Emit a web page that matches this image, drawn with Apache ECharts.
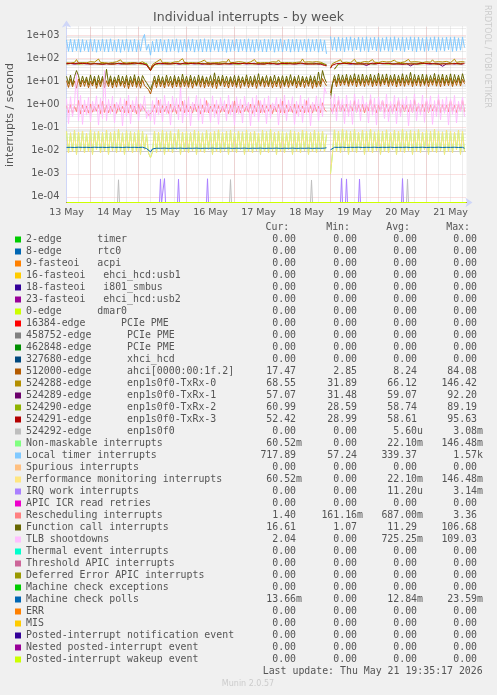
<!DOCTYPE html>
<html>
<head>
<meta charset="utf-8">
<script src="https://cdn.jsdelivr.net/npm/echarts@6/dist/echarts.min.js"></script>
<style>
  html, body { margin: 0; padding: 0; background: #f0f0f0; }
  #irqChart { width: 497px; height: 695px; }
</style>
</head>
<body>
<div id="irqChart"></div>
<script>
// x is hours counted from 13 May 00:00, one sample per hour from 13 May 12:00
var dayLabels = ['13 May', '14 May', '15 May', '16 May', '17 May', '18 May', '19 May', '20 May', '21 May']

var seriesNames = [
  '2-edge      timer',
  '8-edge      rtc0',
  '9-fasteoi   acpi',
  '16-fasteoi   ehci_hcd:usb1',
  '18-fasteoi   i801_smbus',
  '23-fasteoi   ehci_hcd:usb2',
  '0-edge      dmar0',
  '16384-edge      PCIe PME',
  '458752-edge      PCIe PME',
  '462848-edge      PCIe PME',
  '327680-edge      xhci_hcd',
  '512000-edge      ahci[0000:00:1f.2]',
  '524288-edge      enp1s0f0-TxRx-0',
  '524289-edge      enp1s0f0-TxRx-1',
  '524290-edge      enp1s0f0-TxRx-2',
  '524291-edge      enp1s0f0-TxRx-3',
  '524292-edge      enp1s0f0',
  'Non-maskable interrupts',
  'Local timer interrupts',
  'Spurious interrupts',
  'Performance monitoring interrupts',
  'IRQ work interrupts',
  'APIC ICR read retries',
  'Rescheduling interrupts',
  'Function call interrupts',
  'TLB shootdowns',
  'Thermal event interrupts',
  'Threshold APIC interrupts',
  'Deferred Error APIC interrupts',
  'Machine check exceptions',
  'Machine check polls',
  'ERR',
  'MIS',
  'Posted-interrupt notification event',
  'Nested posted-interrupt event',
  'Posted-interrupt wakeup event'
]

var seriesColors = [
  '#00CC00', '#0066B3', '#FF8000', '#FFCC00', '#330099', '#990099', '#CCFF00', '#FF0000', '#808080',
  '#008F00', '#00487D', '#B35A00', '#B38F00', '#6B006B', '#8FB300', '#B30000', '#BEBEBE', '#80FF80',
  '#80C9FF', '#FFC080', '#FFE680', '#AA80FF', '#EE00CC', '#FF8080', '#666600', '#FFBFFF', '#00FFCC',
  '#CC6699', '#999900', '#00CC00', '#0066B3', '#FF8000', '#FFCC00', '#330099', '#990099', '#CCFF00'
]

var curVals = ['0.00', '0.00', '0.00', '0.00', '0.00', '0.00', '0.00', '0.00', '0.00', '0.00', '0.00',
  '17.47', '68.55', '57.07', '60.99', '52.42', '0.00', '60.52m', '717.89', '0.00', '60.52m', '0.00',
  '0.00', '1.40', '16.61', '2.04', '0.00', '0.00', '0.00', '0.00', '13.66m', '0.00', '0.00', '0.00', '0.00', '0.00']
var minVals = ['0.00', '0.00', '0.00', '0.00', '0.00', '0.00', '0.00', '0.00', '0.00', '0.00', '0.00',
  '2.85', '31.89', '31.48', '28.59', '28.99', '0.00', '0.00', '57.24', '0.00', '0.00', '0.00',
  '0.00', '161.16m', '1.07', '0.00', '0.00', '0.00', '0.00', '0.00', '0.00', '0.00', '0.00', '0.00', '0.00', '0.00']
var avgVals = ['0.00', '0.00', '0.00', '0.00', '0.00', '0.00', '0.00', '0.00', '0.00', '0.00', '0.00',
  '8.24', '66.12', '59.07', '58.74', '58.61', '5.60u', '22.10m', '339.37', '0.00', '22.10m', '11.20u',
  '0.00', '687.00m', '11.29', '725.25m', '0.00', '0.00', '0.00', '0.00', '12.84m', '0.00', '0.00', '0.00', '0.00', '0.00']
var maxVals = ['0.00', '0.00', '0.00', '0.00', '0.00', '0.00', '0.00', '0.00', '0.00', '0.00', '0.00',
  '84.08', '146.42', '92.20', '89.19', '95.63', '3.08m', '146.48m', '1.57k', '0.00', '146.48m', '3.14m',
  '0.00', '3.36', '106.68', '109.03', '0.00', '0.00', '0.00', '0.00', '23.59m', '0.00', '0.00', '0.00', '0.00', '0.00']

// hourly series (200 samples)
var localTimerRate = [
  640, 205, 690, 198, 655, 212, 700, 190, 668, 220,
  610, 196, 705, 208, 672, 188, 640, 215, 695, 202,
  660, 192, 715, 210, 630, 200, 688, 186, 650, 224,
  702, 198, 645, 206, 690, 195, 620, 210, 676, 1100,
  230, 420, 140, 560, 200, 680, 196, 700, 212, 640,
  190, 695, 205, 660, 215, 710, 188, 648, 200, 690,
  196, 665, 218, 705, 190, 640, 208, 685, 194, 720,
  202, 655, 192, 698, 226, 630, 198, 680, 210, 710,
  186, 670, 204, 645, 214, 700, 193, 662, 220, 690,
  197, 715, 205, 650, 189, 682, 212, 640, 200, 705,
  195, 668, 222, 690, 188, 655, 208, 712, 199, 636,
  215, 694, 190, 670, 206, 702, 196, 648, 224, 686,
  192, 710, 203, 660, 217, 695, 189, 672, 210, 640,
  160, null, 900, 230, 820, 205, 860, 215, 790, 198,
  845, 226, 870, 210, 780, 235, 855, 200, 810, 222,
  875, 195, 800, 240, 850, 212, 830, 204, 790, 228,
  865, 208, 815, 198, 880, 230, 795, 214, 840, 200,
  805, 236, 870, 210, 825, 196, 850, 224, 785, 205,
  860, 218, 810, 232, 875, 200, 835, 226, 800, 210,
  855, 240, 820, 204, 870, 216, 790, 230, 845, 300
]

var txrx0Rate = [
  66, 72, 63, 70, 68, 90, 64, 71, 67, 74,
  65, 69, 73, 66, 70, 64, 95, 68, 72, 66,
  70, 63, 74, 67, 69, 72, 65, 88, 68, 71,
  64, 73, 67, 70, 66, 75, 63, 69, 72, 66,
  58, 50, 34, 55, 66, 72, 68, 92, 65, 70,
  67, 74, 63, 69, 71, 66, 73, 64, 98, 68,
  72, 65, 70, 67, 75, 63, 69, 71, 66, 86,
  68, 73, 64, 70, 66, 74, 67, 69, 72, 65,
  70, 94, 66, 72, 68, 64, 73, 67, 70, 75,
  63, 69, 71, 66, 90, 68, 72, 65, 70, 67,
  74, 66, 69, 72, 64, 70, 87, 68, 71, 66,
  73, 67, 70, 65, 75, 68, 64, 71, 96, 69,
  66, 72, 68, 70, 64, 73, 67, 69, 62, 58,
  54, null, 40, 60, 68, 74, 70, 88, 66, 72,
  69, 75, 65, 71, 93, 67, 72, 66, 70, 74,
  68, 71, 64, 90, 69, 73, 66, 70, 75, 67,
  71, 65, 72, 69, 86, 70, 74, 66, 69, 72,
  67, 92, 70, 65, 73, 68, 71, 75, 66, 70,
  72, 66, 69, 88, 70, 64, 73, 68, 71, 67,
  75, 69, 66, 72, 94, 68, 70, 73, 65, 71
]

var txrx3Rate = [
  60, 58, 62, 57, 61, 59, 63, 56, 60, 58,
  62, 59, 57, 61, 60, 64, 58, 60, 57, 62,
  59, 61, 58, 63, 57, 60, 62, 58, 61, 59,
  57, 62, 60, 58, 64, 59, 61, 57, 60, 56,
  52, 45, 30, 48, 58, 61, 59, 62, 57, 60,
  61, 58, 63, 59, 57, 62, 60, 58, 61, 64,
  58, 60, 57, 61, 59, 63, 56, 60, 62, 58,
  60, 57, 62, 59, 61, 58, 64, 57, 60, 59,
  62, 58, 60, 63, 57, 61, 59, 60, 58, 62,
  59, 61, 57, 60, 64, 58, 62, 59, 61, 57,
  60, 62, 58, 61, 59, 57, 63, 60, 58, 61,
  57, 60, 62, 58, 61, 59, 60, 64, 57, 60,
  61, 58, 60, 57, 62, 59, 61, 58, 55, 50,
  48, null, 38, 52, 58, 60, 57, 61, 59, 62,
  58, 60, 56, 61, 59, 57, 62, 58, 60, 59,
  61, 57, 60, 63, 58, 60, 56, 62, 59, 61,
  58, 62, 60, 57, 61, 59, 63, 58, 60, 57,
  60, 59, 62, 58, 61, 57, 60, 63, 59, 61,
  57, 61, 59, 60, 62, 58, 60, 57, 61, 59,
  62, 58, 60, 59, 57, 61, 60, 58, 62, 60
]

// two-hourly series (100 samples)
var txrx1Rate = [
  59, 61, 57, 60, 62, 58, 60, 59, 61, 57,
  60, 58, 62, 59, 57, 61, 60, 58, 62, 59,
  57, 32, 55, 60, 58, 61, 59, 62, 57, 60,
  59, 61, 58, 60, 57, 62, 59, 61, 58, 60,
  62, 57, 60, 59, 61, 58, 60, 62, 57, 59,
  61, 58, 60, 57, 62, 59, 61, 58, 60, 59,
  58, 60, 62, 57, 59, 52, null, 36, 58, 60,
  61, 57, 59, 62, 58, 50, 60, 57, 61, 59,
  60, 62, 58, 59, 57, 61, 48, 60, 58, 62,
  59, 57, 61, 60, 46, 59, 62, 58, 60, 57
]

var txrx2Rate = [
  58, 60, 62, 57, 59, 61, 58, 62, 57, 60,
  61, 57, 59, 62, 58, 60, 57, 61, 59, 58,
  62, 30, 54, 58, 61, 57, 60, 59, 62, 58,
  57, 60, 61, 58, 62, 59, 57, 60, 58, 61,
  59, 62, 58, 57, 60, 61, 59, 58, 62, 57,
  60, 59, 61, 62, 57, 58, 60, 61, 59, 62,
  57, 61, 58, 60, 62, 50, null, 34, 57, 61,
  59, 62, 58, 60, 57, 61, 59, 58, 62, 60,
  58, 57, 61, 59, 62, 60, 58, 61, 57, 59,
  62, 60, 58, 57, 61, 59, 60, 62, 58, 61
]

var ahciRate = [
  11, 5.6, 12.5, 6.0, 10.8, 5.2, 13.0, 5.8, 11.6, 6.2,
  12.2, 5.4, 10.5, 6.4, 12.8, 5.1, 11.4, 5.9, 13.2, 5.5,
  10.9, 6.1, 12.4, 5.3, 11.8, 5.7, 12.9, 6.3, 10.6, 5.5,
  12.6, 5.0, 11.2, 6.0, 13.4, 5.6, 10.8, 5.2, 12.0, 6.6,
  8.0, 4.5, 2.9, 6.0, 11.5, 5.5, 12.7, 5.9, 11.0, 5.3,
  12.3, 6.2, 10.7, 5.4, 13.1, 5.8, 11.9, 5.1, 12.5, 6.0,
  11.1, 5.6, 12.8, 5.2, 10.9, 6.3, 12.2, 5.7, 13.3, 5.4,
  11.4, 6.1, 10.6, 5.5, 12.6, 5.0, 11.8, 6.4, 12.9, 5.8,
  10.8, 5.3, 12.4, 6.0, 11.3, 5.6, 13.0, 5.2, 11.7, 6.2,
  12.7, 5.5, 10.9, 5.9, 12.1, 5.1, 11.5, 6.3, 13.2, 5.7,
  11.0, 6.0, 12.5, 5.4, 10.7, 5.8, 12.9, 5.2, 11.6, 6.1,
  12.3, 5.6, 11.1, 6.4, 13.0, 5.3, 10.8, 5.9, 12.6, 5.5,
  11.4, 6.2, 12.8, 5.1, 11.9, 5.7, 10.6, 6.0, 13.5, 9.0,
  6.5, null, 3.2, 8.0, 12.8, 6.0, 13.5, 6.5, 12.2, 7.0,
  13.8, 6.2, 12.4, 6.8, 14.0, 5.9, 12.9, 6.6, 13.3, 6.1,
  12.6, 6.9, 13.9, 6.0, 12.1, 6.5, 13.6, 6.3, 12.8, 7.1,
  14.2, 6.1, 12.5, 6.7, 13.4, 5.8, 12.9, 6.4, 14.1, 6.2,
  12.3, 7.0, 13.7, 6.0, 12.6, 6.6, 14.0, 6.2, 12.9, 6.8,
  13.5, 6.1, 12.4, 6.9, 13.9, 6.3, 12.7, 6.0, 14.3, 6.5,
  12.8, 6.7, 13.6, 6.1, 12.2, 6.8, 13.8, 6.4, 12.5, 8.0
]

var funcCallRate = [
  17, 8.2, 19, 7.5, 16.5, 30, 18, 7.8, 17.5, 8.6,
  16, 7.4, 19.5, 8.0, 17.2, 7.1, 18.4, 8.3, 16.8, 7.7,
  34, 8.1, 17.9, 7.3, 16.2, 8.5, 19.1, 7.6, 17.4, 8.0,
  18.6, 7.2, 16.9, 8.4, 19.8, 7.5, 17.1, 8.1, 18.2, 12,
  9.0, 6.5, 4.5, 8.0, 17.5, 7.9, 18.8, 8.2, 16.4, 7.4,
  19.2, 8.6, 17.0, 7.3, 18.5, 8.0, 16.7, 7.7, 21, 8.3,
  17.3, 7.6, 18.9, 8.1, 16.6, 7.2, 19.4, 8.5, 17.8, 7.9,
  16.1, 8.2, 18.3, 7.4, 24, 8.0, 17.6, 7.5, 19.0, 8.4,
  17.2, 7.8, 16.5, 8.3, 18.7, 7.1, 17.9, 8.6, 16.3, 7.6,
  19.6, 8.0, 17.4, 7.3, 18.1, 8.2, 22, 7.7, 16.8, 8.5,
  18.4, 7.5, 17.0, 8.1, 19.3, 7.9, 16.6, 8.4, 18.0, 7.2,
  17.5, 8.3, 19.9, 7.6, 16.9, 8.0, 18.6, 7.4, 17.3, 8.7,
  16.4, 7.8, 18.2, 8.2, 17.7, 7.5, 26, 8.1, 30, 14,
  9.0, null, 1.8, 8.5, 18.5, 8.4, 21, 8.8, 19.4, 9.0,
  20.5, 8.2, 18.8, 9.1, 22, 8.6, 19.7, 8.0, 21.3, 8.9,
  18.9, 9.2, 20.8, 8.3, 19.2, 8.7, 23, 8.1, 20.1, 9.0,
  21.5, 8.4, 19.0, 9.3, 20.6, 8.2, 18.7, 8.8, 21.9, 8.5,
  19.5, 9.1, 25, 8.3, 20.4, 8.9, 19.1, 8.6, 21.2, 8.0,
  20.0, 8.7, 18.6, 9.2, 22.5, 8.4, 19.8, 9.0, 20.9, 8.3,
  19.3, 8.8, 21.7, 8.1, 20.2, 9.3, 18.9, 8.5, 22, 10
]

var reschedRate = [
  0.9, 0.45, 1.0, 0.42, 0.85, 0.5, 1.5, 0.4, 0.95, 0.48,
  0.88, 0.43, 1.05, 0.47, 0.82, 0.52, 0.98, 0.41, 1.4, 0.46,
  0.92, 0.44, 0.86, 0.5, 1.02, 0.42, 0.9, 0.49, 0.84, 0.45,
  1.45, 0.43, 0.96, 0.48, 0.87, 0.4, 1.0, 0.51, 0.89, 0.6,
  0.5, 0.35, 0.3, 0.5, 0.93, 0.46, 1.55, 0.44, 0.9, 0.5,
  0.85, 0.42, 1.03, 0.47, 0.88, 0.41, 0.97, 0.52, 1.4, 0.45,
  0.91, 0.48, 0.86, 0.43, 1.01, 0.5, 0.89, 0.4, 0.94, 0.47,
  1.5, 0.44, 0.87, 0.51, 0.99, 0.42, 0.9, 0.46, 0.85, 0.49,
  1.02, 0.41, 0.92, 0.48, 1.45, 0.45, 0.88, 0.43, 0.96, 0.5,
  0.86, 0.47, 1.04, 0.42, 0.9, 0.49, 1.5, 0.44, 0.93, 0.46,
  0.89, 0.52, 0.97, 0.41, 0.87, 0.48, 1.0, 0.45, 1.42, 0.43,
  0.94, 0.5, 0.85, 0.46, 1.03, 0.42, 0.91, 0.49, 0.88, 0.44,
  1.48, 0.47, 0.9, 0.43, 0.98, 0.51, 0.86, 0.45, 1.2, 0.6,
  0.5, null, 0.7, 0.45, 1.0, 0.5, 1.6, 0.48, 0.95, 0.52,
  1.05, 0.46, 0.92, 0.54, 1.5, 0.47, 0.98, 0.5, 1.02, 0.44,
  0.94, 0.53, 1.7, 0.48, 1.0, 0.45, 0.96, 0.52, 1.55, 0.47,
  1.03, 0.5, 0.93, 0.46, 0.99, 0.55, 1.6, 0.44, 0.97, 0.51,
  0.95, 0.48, 1.04, 0.45, 1.65, 0.52, 0.92, 0.47, 1.01, 0.5,
  1.5, 0.46, 0.98, 0.53, 0.94, 0.49, 1.7, 0.45, 1.0, 0.52,
  0.96, 0.48, 1.55, 0.5, 0.93, 0.46, 1.02, 0.53, 1.6, 0.49
]

var tlbRate = [
  1.8, 0.15, 2.2, 0.3, 1.2, 24, 0.2, 2.5, 0.14, 1.6,
  0.35, 2.1, 0.18, 1.4, 0.5, 2.4, 0.13, 1.9, 0.25, 30,
  0.2, 1.7, 0.4, 2.3, 0.16, 1.3, 0.6, 2.0, 0.12, 1.8,
  0.3, 2.6, 0.15, 1.5, 0.45, 2.2, 0.2, 1.1, 0.55, 2.4,
  0.25, 0.6, 0.2, 1.5, 0.14, 2.1, 0.35, 1.7, 0.18, 2.5,
  0.4, 1.4, 0.13, 2.3, 0.5, 1.9, 0.22, 5.5, 0.16, 1.6,
  0.3, 2.2, 0.12, 1.3, 0.6, 2.5, 0.2, 1.8, 0.15, 2.0,
  0.45, 1.2, 0.17, 2.4, 0.28, 1.6, 0.14, 2.1, 0.5, 1.5,
  0.2, 2.6, 0.35, 1.4, 0.13, 2.2, 0.4, 1.7, 0.16, 2.3,
  0.55, 1.3, 0.12, 2.0, 0.3, 2.5, 0.18, 1.5, 0.42, 1.9,
  0.15, 2.4, 0.25, 1.2, 0.6, 2.1, 0.13, 1.8, 0.35, 2.6,
  0.2, 1.6, 0.48, 2.2, 0.14, 1.4, 0.3, 2.5, 0.17, 1.7,
  0.4, 2.0, 0.12, 1.3, 0.55, 2.4, 0.2, 1.9, 0.3, 5.5,
  3.0, null, 2.5, 0.4, 2.8, 0.2, 2.3, 0.5, 1.8, 0.15,
  2.6, 0.3, 1.5, 0.14, 2.9, 0.45, 1.7, 0.2, 2.4, 0.6,
  1.3, 0.16, 2.7, 0.35, 1.9, 0.13, 2.2, 0.5, 1.6, 0.25,
  2.8, 0.18, 1.4, 0.4, 2.5, 0.15, 2.0, 0.3, 1.8, 0.55,
  2.3, 0.12, 1.6, 0.45, 2.9, 0.2, 1.2, 0.35, 2.6, 0.17,
  1.9, 0.5, 2.4, 0.14, 1.5, 0.3, 2.7, 0.22, 1.7, 0.42,
  2.2, 0.13, 1.8, 0.38, 2.5, 0.16, 1.4, 0.5, 2.1, 0.3
]

// NMI and performance monitoring counts are identical
var pmiRate = [
  0.07, 0.008, 0.06, 0.009, 0.075, 0.007, 0.065, 0.010, 0.072, 0.008,
  0.058, 0.009, 0.08, 0.007, 0.066, 0.011, 0.071, 0.008, 0.062, 0.009,
  0.078, 0.007, 0.064, 0.010, 0.069, 0.008, 0.083, 0.009, 0.06, 0.007,
  0.073, 0.010, 0.067, 0.008, 0.061, 0.009, 0.079, 0.007, 0.068, 0.011,
  0.05, 0.008, 0.005, 0.009, 0.07, 0.008, 0.063, 0.010, 0.076, 0.007,
  0.066, 0.009, 0.072, 0.008, 0.059, 0.011, 0.081, 0.007, 0.065, 0.009,
  0.07, 0.008, 0.062, 0.010, 0.077, 0.007, 0.068, 0.009, 0.06, 0.008,
  0.074, 0.011, 0.065, 0.007, 0.07, 0.009, 0.08, 0.008, 0.063, 0.010,
  0.069, 0.007, 0.075, 0.009, 0.061, 0.008, 0.072, 0.011, 0.066, 0.007,
  0.078, 0.009, 0.064, 0.008, 0.07, 0.010, 0.059, 0.007, 0.076, 0.009,
  0.067, 0.008, 0.082, 0.010, 0.063, 0.007, 0.071, 0.009, 0.068, 0.008,
  0.06, 0.011, 0.074, 0.007, 0.069, 0.009, 0.065, 0.008, 0.079, 0.010,
  0.071, 0.007, 0.062, 0.009, 0.077, 0.008, 0.066, 0.010, 0.07, 0.009,
  0.05, null, 0.001, 0.008, 0.08, 0.009, 0.07, 0.008, 0.085, 0.010,
  0.073, 0.007, 0.068, 0.009, 0.082, 0.008, 0.064, 0.011, 0.078, 0.007,
  0.07, 0.009, 0.086, 0.008, 0.066, 0.010, 0.075, 0.007, 0.069, 0.009,
  0.08, 0.008, 0.063, 0.011, 0.077, 0.007, 0.071, 0.009, 0.084, 0.008,
  0.067, 0.010, 0.074, 0.007, 0.07, 0.009, 0.081, 0.008, 0.065, 0.011,
  0.076, 0.007, 0.069, 0.009, 0.083, 0.008, 0.072, 0.010, 0.066, 0.007,
  0.079, 0.009, 0.071, 0.008, 0.064, 0.011, 0.077, 0.007, 0.07, 0.009
]

var mcePollRate = [
  0.0140, 0.0129, 0.0141, 0.0127, 0.0139, 0.0130, 0.0142, 0.0128, 0.0140, 0.0129,
  0.0141, 0.0128, 0.0139, 0.0130, 0.0142, 0.0127, 0.0140, 0.0129, 0.0141, 0.0128,
  0.0139, 0.0130, 0.0142, 0.0128, 0.0140, 0.0127, 0.0141, 0.0129, 0.0139, 0.0130,
  0.0142, 0.0128, 0.0140, 0.0129, 0.0141, 0.0127, 0.0139, 0.0130, 0.0142, 0.0128,
  0.0125, 0.0110, 0.0090, 0.0120, 0.0140, 0.0129, 0.0141, 0.0128, 0.0139, 0.0130,
  0.0141, 0.0127, 0.0140, 0.0129, 0.0142, 0.0128, 0.0139, 0.0130, 0.0141, 0.0127,
  0.0140, 0.0129, 0.0142, 0.0128, 0.0139, 0.0130, 0.0141, 0.0127, 0.0140, 0.0129,
  0.0142, 0.0128, 0.0139, 0.0130, 0.0141, 0.0127, 0.0140, 0.0129, 0.0142, 0.0128,
  0.0139, 0.0130, 0.0141, 0.0127, 0.0140, 0.0129, 0.0142, 0.0128, 0.0139, 0.0130,
  0.0141, 0.0127, 0.0140, 0.0129, 0.0142, 0.0128, 0.0139, 0.0130, 0.0141, 0.0127,
  0.0140, 0.0129, 0.0142, 0.0128, 0.0139, 0.0130, 0.0141, 0.0127, 0.0140, 0.0129,
  0.0142, 0.0128, 0.0139, 0.0130, 0.0141, 0.0127, 0.0140, 0.0129, 0.0142, 0.0128,
  0.0139, 0.0130, 0.0141, 0.0127, 0.0140, 0.0129, 0.0142, 0.0128, 0.0139, 0.0130,
  0.0135, null, 0.0110, 0.0130, 0.0141, 0.0128, 0.0140, 0.0129, 0.0142, 0.0127,
  0.0139, 0.0130, 0.0141, 0.0128, 0.0140, 0.0129, 0.0142, 0.0127, 0.0139, 0.0130,
  0.0141, 0.0128, 0.0140, 0.0129, 0.0142, 0.0127, 0.0139, 0.0130, 0.0141, 0.0128,
  0.0140, 0.0129, 0.0142, 0.0127, 0.0139, 0.0130, 0.0141, 0.0128, 0.0140, 0.0129,
  0.0142, 0.0127, 0.0139, 0.0130, 0.0141, 0.0128, 0.0140, 0.0129, 0.0142, 0.0127,
  0.0139, 0.0130, 0.0141, 0.0128, 0.0140, 0.0129, 0.0142, 0.0127, 0.0139, 0.0130,
  0.0141, 0.0128, 0.0140, 0.0129, 0.0142, 0.0127, 0.0139, 0.0130, 0.0141, 0.0128
]

// rare bursts, zero the rest of the time
var irqWorkSpikeHours = [59, 61, 68, 82.5, 149.5, 152, 158.5, 180]
var irqWorkSpikeVals = [6.0e-4, 6.2e-4, 5.8e-4, 6.1e-4, 6.3e-4, 6.0e-4, 5.9e-4, 6.2e-4]
var enpSpikeHours = [38, 94, 134.5, 182.5]
var enpSpikeVals = [5.5e-4, 5.6e-4, 5.4e-4, 5.8e-4]

var X_MIN = 12
var X_MAX = 212
var Y_MIN = 5.7e-5
var Y_MAX = 2450

// rrdtool pins zero to the floor of a log graph, do the same
function floorZero(v) {
  return v === null ? '-' : Math.max(v, Y_MIN)
}
function hourly(values, step) {
  return values.map(function(v, i) { return [X_MIN + i * step, floorZero(v)] })
}
function spikes(hours, values) {
  var pts = [[X_MIN, floorZero(0)]]
  hours.forEach(function(h, k) {
    pts.push([h - 0.5, floorZero(0)], [h, values[k]], [h + 0.5, floorZero(0)])
  })
  pts.push([X_MAX, floorZero(0)])
  return pts
}

var dataFor = {
  11: hourly(ahciRate, 1),
  12: hourly(txrx0Rate, 1),
  13: hourly(txrx1Rate, 2),
  14: hourly(txrx2Rate, 2),
  15: hourly(txrx3Rate, 1),
  16: spikes(enpSpikeHours, enpSpikeVals),
  17: hourly(pmiRate, 1),
  18: hourly(localTimerRate, 1),
  20: hourly(pmiRate, 1),
  21: spikes(irqWorkSpikeHours, irqWorkSpikeVals),
  23: hourly(reschedRate, 1),
  24: hourly(funcCallRate, 1),
  25: hourly(tlbRate, 1),
  30: hourly(mcePollRate, 1)
}

var MONO = 'DejaVu Sans Mono'
var SANS = 'DejaVu Sans'
var FONT_COLOR = '#555555'
var MINOR_GRID = 'rgba(200,200,200,0.65)'
var MAJOR_GRID = 'rgba(235,120,120,0.45)'

// grid lines rrdtool style: grey minor, red major
var gridLines = []
for (var h = 24; h < X_MAX; h += 24) {
  gridLines.push({ xAxis: h, lineStyle: { color: MAJOR_GRID, type: 'dotted', width: 1 } })
}
for (var e = -5; e <= 3; e++) {
  for (var m = 2; m <= 9; m++) {
    var v = m * Math.pow(10, e)
    if (v > Y_MIN && v < Y_MAX) {
      gridLines.push({ yAxis: v, lineStyle: { color: MINOR_GRID, type: 'dotted', width: 1 } })
    }
  }
}

var series = [{
  name: '_grid',
  type: 'line',
  data: [],
  silent: true,
  markLine: {
    silent: true,
    z: 1,
    symbol: 'none',
    label: { show: false },
    emphasis: { disabled: true },
    animation: false,
    data: gridLines
  }
}]
seriesNames.forEach(function(name, k) {
  series.push({
    name: name,
    type: 'line',
    z: 2,
    showSymbol: false,
    symbol: 'none',
    animation: false,
    silent: true,
    emphasis: { disabled: true },
    itemStyle: { color: seriesColors[k] },
    lineStyle: { color: seriesColors[k], width: 1 },
    data: dataFor[k] || [[X_MIN, floorZero(0)], [X_MAX, floorZero(0)]]
  })
})

function padVal(s) {
  return /[0-9]$/.test(s) ? s + '\u00a0' : s
}
function cell(w) {
  return { width: w, align: 'right', fontFamily: MONO, fontSize: 9.9, color: FONT_COLOR, lineHeight: 12 }
}

var chart = echarts.init(document.getElementById('irqChart'))
var option = {
  backgroundColor: '#f0f0f0',
  animation: false,
  textStyle: { fontFamily: SANS },
  title: {
    text: 'Individual interrupts - by week',
    left: 'center',
    top: 11,
    padding: 0,
    textStyle: { fontFamily: SANS, fontSize: 12.5, fontWeight: 'normal', color: FONT_COLOR }
  },
  // half-pixel offsets keep the 1px lines crisp
  grid: {
    left: 66.5,
    top: 26.5,
    width: 400,
    height: 176,
    show: true,
    backgroundColor: '#ffffff',
    borderWidth: 0,
    containLabel: false,
    outerBoundsMode: 'none'
  },
  xAxis: {
    type: 'value',
    min: X_MIN,
    max: X_MAX,
    interval: 6,
    axisLine: {
      lineStyle: { color: '#CFD6F8', width: 1 },
      symbol: ['none', 'arrow'],
      symbolSize: [7, 7],
      symbolOffset: [0, 6]
    },
    axisTick: { show: false },
    axisLabel: {
      margin: 5,
      color: FONT_COLOR,
      fontFamily: SANS,
      fontSize: 9.5,
      formatter: function(h) {
        return (h - X_MIN) % 24 === 0 ? dayLabels[(h - X_MIN) / 24] : ''
      }
    },
    splitLine: {
      show: true,
      showMinLine: false,
      showMaxLine: false,
      lineStyle: { color: MINOR_GRID, type: 'dotted', width: 1 }
    }
  },
  yAxis: {
    type: 'log',
    logBase: 10,
    min: Y_MIN,
    max: Y_MAX,
    axisLine: {
      show: true,
      lineStyle: { color: '#CFD6F8', width: 1 },
      symbol: ['none', 'arrow'],
      symbolSize: [7, 7],
      symbolOffset: [0, 6]
    },
    axisTick: { show: false },
    axisLabel: {
      margin: 7,
      color: FONT_COLOR,
      fontFamily: SANS,
      fontSize: 9.8,
      showMinLabel: false,
      showMaxLabel: false,
      formatter: function(v) {
        var ex = Math.round(Math.log10(v))
        return '1e' + (ex < 0 ? '-' : '+') + String(Math.abs(ex)).padStart(2, '0')
      }
    },
    splitLine: {
      show: true,
      showMinLine: false,
      showMaxLine: false,
      lineStyle: { color: MAJOR_GRID, type: 'dotted', width: 1 }
    },
    minorSplitLine: { show: false }
  },
  legend: {
    data: seriesNames,
    orient: 'vertical',
    left: 15,
    top: 233.5,
    padding: 0,
    itemGap: 0,
    itemWidth: 6,
    itemHeight: 6,
    icon: 'rect',
    selectedMode: false,
    itemStyle: { borderWidth: 0 },
    textStyle: { fontFamily: MONO, fontSize: 9.9, color: FONT_COLOR, lineHeight: 12,
      rich: {
        n: { width: 210, align: 'left', fontFamily: MONO, fontSize: 9.9, color: FONT_COLOR, lineHeight: 12 },
        c: cell(66),
        i: cell(61),
        a: cell(60),
        x: cell(60)
      }
    },
    formatter: function(name) {
      var k = seriesNames.indexOf(name)
      return '{n|' + name + '}{c|' + padVal(curVals[k]) + '}{i|' + padVal(minVals[k]) +
        '}{a|' + padVal(avgVals[k]) + '}{x|' + padVal(maxVals[k]) + '}'
    }
  },
  graphic: [
    { type: 'text', x: 10.5, y: 115, rotation: Math.PI / 2,
      style: { text: 'interrupts / second', fill: FONT_COLOR, font: '11px "DejaVu Sans"', textAlign: 'center', textVerticalAlign: 'middle' } },
    { type: 'text', x: 487, y: 5, rotation: -Math.PI / 2,
      style: { text: 'RRDTOOL / TOBI OETIKER', fill: '#cccccc', font: '8px "DejaVu Sans"', textAlign: 'left', textVerticalAlign: 'middle' } },
    { type: 'text', x: 289.3, y: 227.3,
      style: { text: 'Cur:', fill: FONT_COLOR, font: '9.9px "DejaVu Sans Mono"', textAlign: 'right', textVerticalAlign: 'middle' } },
    { type: 'text', x: 350, y: 227.3,
      style: { text: 'Min:', fill: FONT_COLOR, font: '9.9px "DejaVu Sans Mono"', textAlign: 'right', textVerticalAlign: 'middle' } },
    { type: 'text', x: 410, y: 227.3,
      style: { text: 'Avg:', fill: FONT_COLOR, font: '9.9px "DejaVu Sans Mono"', textAlign: 'right', textVerticalAlign: 'middle' } },
    { type: 'text', x: 470, y: 227.3,
      style: { text: 'Max:', fill: FONT_COLOR, font: '9.9px "DejaVu Sans Mono"', textAlign: 'right', textVerticalAlign: 'middle' } },
    { type: 'text', x: 482.7, y: 671.7,
      style: { text: 'Last update: Thu May 21 19:35:17 2026', fill: FONT_COLOR, font: '9.9px "DejaVu Sans Mono"', textAlign: 'right', textVerticalAlign: 'middle' } },
    { type: 'text', x: 248, y: 684,
      style: { text: 'Munin 2.0.57', fill: '#cccccc', font: '8px "DejaVu Sans"', textAlign: 'center', textVerticalAlign: 'middle' } }
  ],
  series: series
}
chart.setOption(option)
</script>
</body>
</html>
